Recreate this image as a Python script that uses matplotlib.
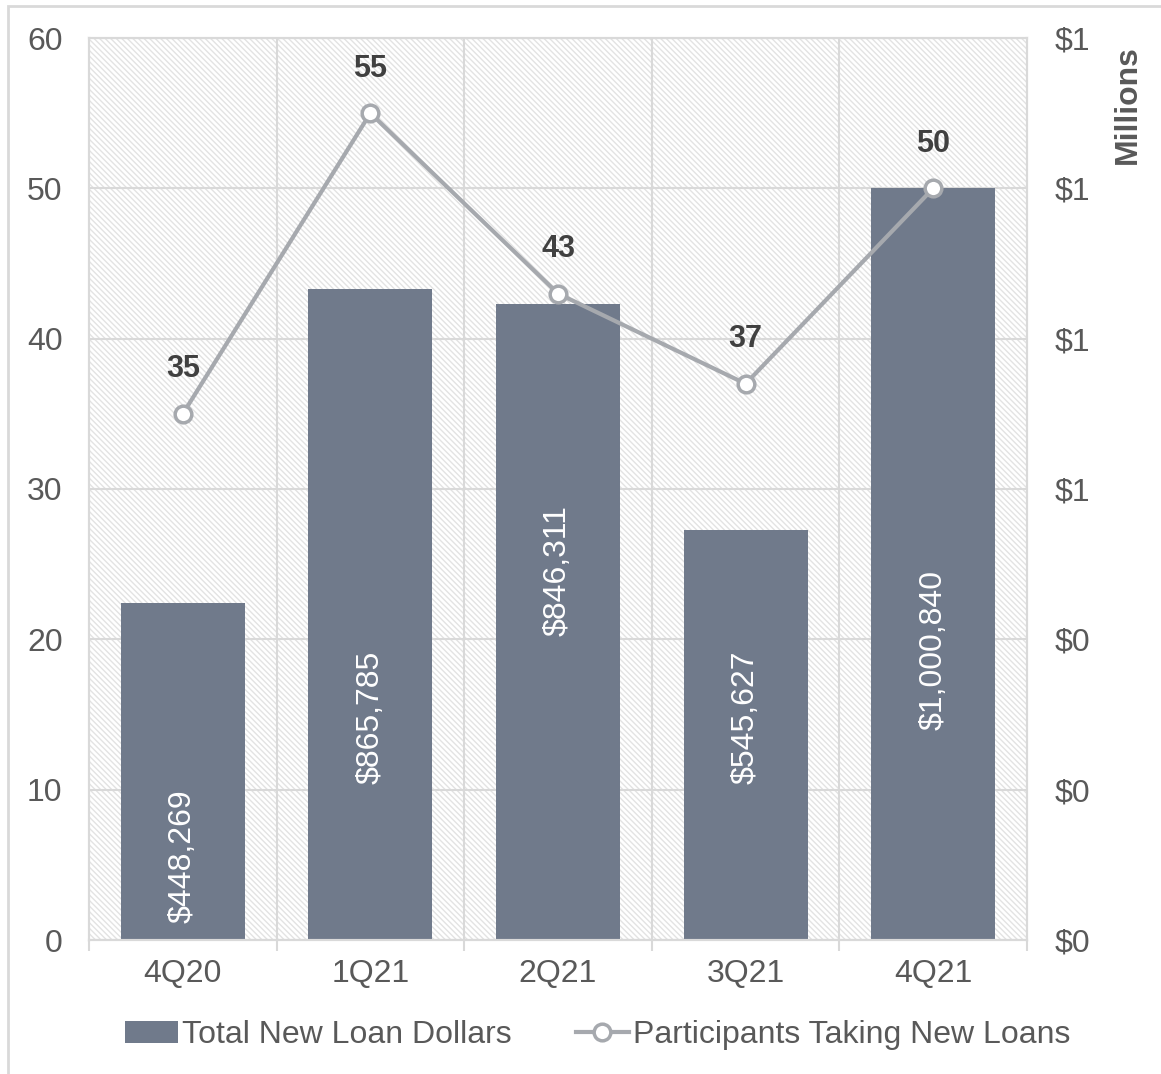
import matplotlib.pyplot as plt
from matplotlib.patches import Rectangle, Patch
from matplotlib.lines import Line2D
from matplotlib.ticker import FuncFormatter

plt.rcParams['font.family'] = ['Liberation Sans', 'DejaVu Sans']
plt.rcParams['hatch.linewidth'] = 1.0

# datos
trimestres = ["4Q20", "1Q21", "2Q21", "3Q21", "4Q21"]
dolares = [448269, 865785, 846311, 545627, 1000840]
participantes = [35, 55, 43, 37, 50]
etiquetas_dolares = ["$448,269", "$865,785", "$846,311", "$545,627", "$1,000,840"]
# posicion vertical de cada etiqueta (en escala izquierda)
pos_etiqueta = [5.6, 14.8, 24.6, 14.8, 19.3]

color_barra = "#707a8b"
color_linea = "#a6a9ae"
color_texto = "#595959"
color_grilla = "#d9d9d9"

W, H = 1161, 1074
fig = plt.figure(figsize=(W / 100, H / 100), dpi=100)

# borde exterior de la figura
fig.patches.append(Rectangle((8 / W, -0.1), 1.2, 1.1 - 6 / H,
                             transform=fig.transFigure, fill=False,
                             edgecolor=color_grilla, linewidth=2))

ax = fig.add_axes([89 / W, 1 - 940 / H, (1027 - 89) / W, (940 - 38) / H])
ax2 = ax.twinx()

# ax2 (barras) queda debajo de ax (linea)
ax.set_zorder(ax2.get_zorder() + 1)
ax.patch.set_visible(False)
ax2.patch.set_visible(False)

# fondo rayado
ax2.add_patch(Rectangle((0, 0), 1, 1, transform=ax2.transAxes,
                        facecolor="white", edgecolor="#e3e3e3",
                        hatch="\\" * 6, linewidth=0, zorder=0))

x = range(len(trimestres))

# grilla
for v in [0, 200000, 400000, 600000, 800000, 1000000, 1200000]:
    ax2.axhline(v, color=color_grilla, linewidth=1.5, zorder=1)
for b in [0.5, 1.5, 2.5, 3.5]:
    ax2.axvline(b, color=color_grilla, linewidth=1.5, zorder=1)

ax2.bar(x, dolares, width=0.66, color=color_barra, zorder=2)
ax2.set_ylim(0, 1200000)
ax2.set_yticks([0, 200000, 400000, 600000, 800000, 1000000, 1200000])
ax2.yaxis.set_major_formatter(FuncFormatter(lambda v, p: f"${v / 1e6:.0f}"))

for i, et in enumerate(etiquetas_dolares):
    ax.text(i, pos_etiqueta[i], et, rotation=90, ha="center", va="center",
            color="white", fontsize=23, zorder=3)

ax.plot(x, participantes, color=color_linea, linewidth=3, marker="o",
        markersize=12, markerfacecolor="white", markeredgecolor=color_linea,
        markeredgewidth=2.5, zorder=4)
for i, v in enumerate(participantes):
    ax.annotate(str(v), (i, v), xytext=(0, 32), textcoords="offset points",
                ha="center", va="center", fontsize=22, fontweight="bold",
                color="#404040")

ax.set_ylim(0, 60)
ax.set_yticks(range(0, 61, 10))
ax.set_xlim(-0.5, 4.5)
ax.set_xticks(list(x))
ax.set_xticklabels(trimestres)
ax.set_xticks([-0.5, 0.5, 1.5, 2.5, 3.5, 4.5], minor=True)

ax.tick_params(axis="y", length=0, pad=19, labelsize=23, labelcolor=color_texto)
ax.tick_params(axis="x", which="major", length=0, pad=14, labelsize=23,
               labelcolor=color_texto)
ax.tick_params(axis="x", which="minor", length=8, width=1.5, color=color_grilla)
ax2.tick_params(axis="y", length=0, pad=20, labelsize=23, labelcolor=color_texto)

for a in (ax, ax2):
    for s in a.spines.values():
        s.set_color(color_grilla)
        s.set_linewidth(1.5)

fig.text(1128 / W, 1 - 105 / H, "Millions", rotation=90, ha="center",
         va="center", fontsize=23, fontweight="bold", color=color_texto)

handles = [Patch(facecolor=color_barra, edgecolor="none"),
           Line2D([0], [0], color=color_linea, linewidth=3, marker="o",
                  markersize=12, markerfacecolor="white",
                  markeredgecolor=color_linea, markeredgewidth=2.5)]
fig.legend(handles, ["Total New Loan Dollars", "Participants Taking New Loans"],
           loc="center", bbox_to_anchor=(0.515, 1 - 1035 / H), ncol=2,
           frameon=False, fontsize=23, labelcolor=color_texto,
           handlelength=1.65, handletextpad=0.15, columnspacing=2.0)

fig.savefig("out.png", dpi=100)
